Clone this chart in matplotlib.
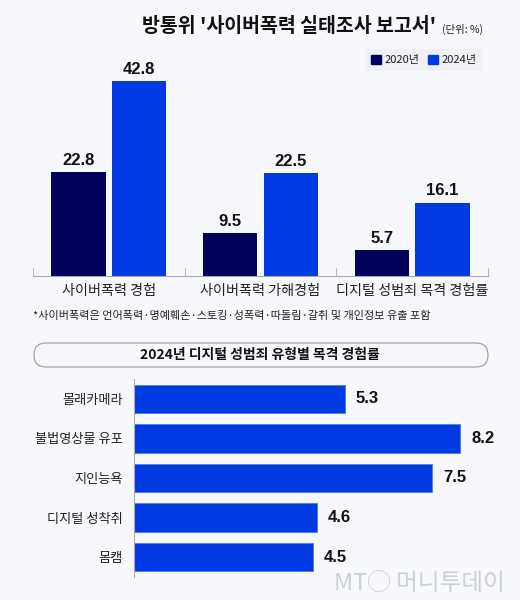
import matplotlib

matplotlib.use("Agg")
import matplotlib.pyplot as plt
from matplotlib.patches import FancyBboxPatch, Patch

plt.rcParams["font.family"] = ["Noto Sans CJK KR", "DejaVu Sans"]

BG = "#f7f8fc"
DARK = "#00005a"
BLUE = "#003ae2"
NUM_FONT = ["Liberation Sans", "Noto Sans CJK KR"]

# top chart
categories = ["사이버폭력 경험", "사이버폭력 가해경험", "디지털 성범죄 목격 경험률"]
years = ["2020년", "2024년"]
values_2020 = [22.8, 9.5, 5.7]
values_2024 = [42.8, 22.5, 16.1]

# bottom chart
types = ["몰래카메라", "불법영상물 유포", "지인능욕", "디지털 성착취", "몸캠"]
type_values = [5.3, 8.2, 7.5, 4.6, 4.5]

W, H = 520, 600
fig = plt.figure(figsize=(W / 100, H / 100), dpi=100, facecolor=BG)


def px_axes(left, top, right, bottom):
    return fig.add_axes([left / W, 1 - bottom / H, (right - left) / W, (bottom - top) / H])


# ---- grouped bars
ax = px_axes(33, 75, 488, 276)
ax.set_facecolor(BG)
x = list(range(len(categories)))
bw = 0.36
b1 = ax.bar([i - 0.2 for i in x], values_2020, width=bw, color=DARK, label=years[0])
b2 = ax.bar([i + 0.2 for i in x], values_2024, width=bw, color=BLUE, label=years[1])
for bars in (b1, b2):
    for rect in bars:
        ax.annotate(f"{rect.get_height():.1f}", (rect.get_x() + rect.get_width() / 2, rect.get_height()),
                    xytext=(0, 3), textcoords="offset points", ha="center", va="bottom",
                    fontsize=12, fontweight="bold", family=NUM_FONT, color="#111111")
ax.set_xlim(-0.5, 2.5)
ax.set_ylim(0, 44.1)
ax.set_xticks(x)
ax.set_xticklabels(categories, fontsize=10.2, color="#222222")
ax.tick_params(axis="x", length=0, pad=6)
ax.set_xticks([-0.5, 0.5, 1.5, 2.5], minor=True)
ax.tick_params(axis="x", which="minor", direction="in", length=6, color="#aaaaaa")
ax.set_yticks([])
for s in ("top", "right", "left"):
    ax.spines[s].set_visible(False)
ax.spines["bottom"].set_color("#aaaaaa")

leg = ax.legend(handles=[Patch(color=DARK), Patch(color=BLUE)], labels=years,
                loc="center right", bbox_to_anchor=(488 / W, 1 - 60 / H),
                bbox_transform=fig.transFigure, ncol=2, fontsize=8, frameon=True,
                facecolor="#eceef5", edgecolor="none", fancybox=False,
                handlelength=0.9, handleheight=0.9, handletextpad=0.3, columnspacing=0.8,
                borderpad=0.5)
for t in leg.get_texts():
    t.set_color("#222222")

fig.text(436 / W, 1 - 27 / H, "방통위 '사이버폭력 실태조사 보고서'", ha="right", va="center",
         fontsize=14, fontweight="bold", color="#111111")
fig.text(442 / W, 1 - 29 / H, "(단위: %)", ha="left", va="center", fontsize=7.5, color="#222222")

fig.text(33 / W, 1 - 316 / H, "*사이버폭력은 언어폭력·명예훼손·스토킹·성폭력·따돌림·갈취 및 개인정보 유출 포함",
         ha="left", va="center", fontsize=8, color="#222222")

# rounded title box
box = FancyBboxPatch((0.34, (H - 367) / 100), 4.54, 0.24,
                     boxstyle="round,pad=0,rounding_size=0.12",
                     transform=fig.dpi_scale_trans, facecolor=BG, edgecolor="#999999", linewidth=0.8)
fig.patches.append(box)
fig.text(260 / W, 1 - 355 / H, "2024년 디지털 성범죄 유형별 목격 경험률", ha="center", va="center",
         fontsize=10, fontweight="bold", color="#111111")

# ---- horizontal bars
ax2 = px_axes(134, 379, 488, 577)
ax2.set_facecolor("none")
y = list(range(len(types)))
hb = ax2.barh(y, type_values, height=0.72, color=BLUE, edgecolor="#4f78f0", linewidth=0.6)
for rect, v in zip(hb, type_values):
    ax2.annotate(f"{v:.1f}", (v, rect.get_y() + rect.get_height() / 2), xytext=(8, 0),
                 textcoords="offset points", ha="left", va="center",
                 fontsize=12, fontweight="bold", family=NUM_FONT, color="#111111")
ax2.set_ylim(4.5, -0.5)
ax2.set_xlim(0, 8.9)
ax2.set_yticks(y)
ax2.set_yticklabels(types, fontsize=9.5, color="#222222")
ax2.tick_params(axis="y", length=0, pad=8)
ax2.set_xticks([])
for s in ("top", "right", "bottom"):
    ax2.spines[s].set_visible(False)
ax2.spines["left"].set_color("#aaaaaa")

# watermark
fig.text(505 / W, 1 - 583 / H, "MT◯ 머니투데이", ha="right", va="center", fontsize=17,
         color="#c9cbd2", alpha=0.9, zorder=0)

fig.savefig("out.png", dpi=100, facecolor=BG)
